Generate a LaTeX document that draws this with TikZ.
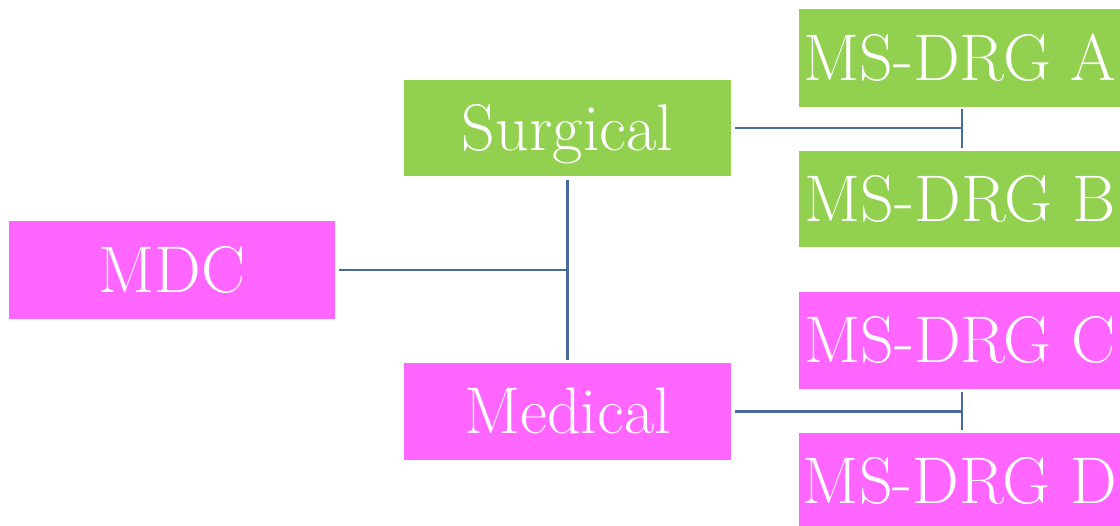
\documentclass[tikz,border=0pt]{standalone}
\usepackage{fontspec}
\setmainfont{Latin Modern Roman}
\usetikzlibrary{calc}
\definecolor{grn}{RGB}{146,208,80}
\definecolor{mag}{RGB}{255,102,255}
\definecolor{lnk}{RGB}{70,106,154}
\tikzset{
  box/.style={inner sep=0pt, text=white, font=\fontsize{66}{72}\selectfont,
    text height=45pt, text depth=0pt, minimum width=326pt, minimum height=97pt},
  gbox/.style={box, fill=grn},
  mbox/.style={box, fill=mag},
  conn/.style={draw=lnk, line width=2.8pt}
}
\begin{document}
\begin{tikzpicture}[x=1pt,y=1pt]
\useasboundingbox (0,0) rectangle (1120,526);
\clip (0,0) rectangle (1120,526);
\node[mbox, minimum height=98pt] (MDC) at (172,256) {MDC};
\node[gbox, minimum width=327pt, minimum height=96pt] (S) at (567.5,398) {Surgical};
\node[mbox, minimum width=327pt] (Med) at (567.5,114.5) {Medical};
\node[gbox, minimum width=322pt, minimum height=98pt] (A) at (960,468) {MS-DRG A};
\node[gbox, minimum width=322pt, minimum height=96pt] (B) at (960,327) {MS-DRG B};
\node[mbox, minimum width=322pt] (C) at (960,185.5) {MS-DRG C};
\node[mbox, minimum width=322pt] (D) at (960,44.5) {MS-DRG D};
\coordinate (j) at (S.south |- MDC.east);
\coordinate (sa) at (962,398);
\coordinate (mc) at (962,114.5);
\draw[conn] ($(MDC.east)+(4,0)$) -- (j);
\draw[conn] ($(S.south)+(0,-4)$) -- ($(Med.north)+(0,3)$);
\draw[conn] ($(S.east)+(4,0)$) -- (sa);
\draw[conn] ($(sa |- A.south)+(0,-2)$) -- ($(sa |- B.north)+(0,3)$);
\draw[conn] ($(Med.east)+(4,0)$) -- (mc);
\draw[conn] ($(mc |- C.south)+(0,-3)$) -- ($(mc |- D.north)+(0,3)$);
\end{tikzpicture}
\end{document}
